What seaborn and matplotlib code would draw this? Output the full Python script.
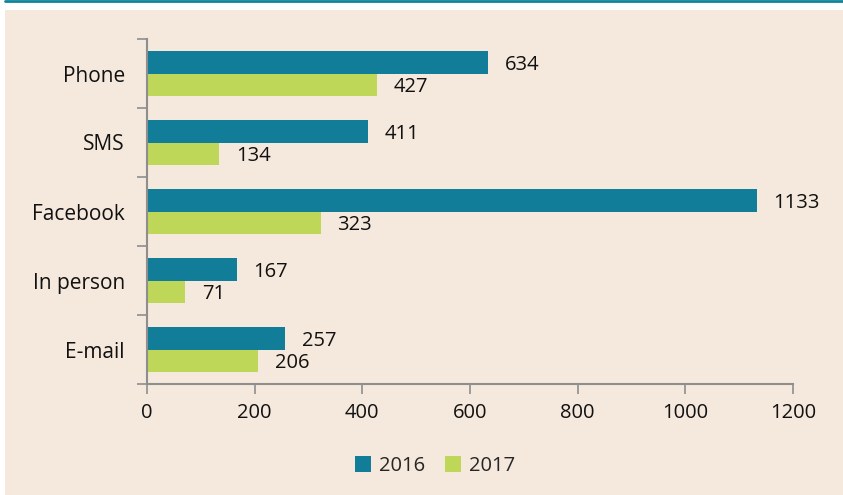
import pandas as pd
import numpy as np
import matplotlib.pyplot as plt
import seaborn as sns
from matplotlib.patches import Rectangle
from matplotlib.lines import Line2D

channels = ['Phone', 'SMS', 'Facebook', 'In person', 'E-mail']
years = ['2016', '2017']
values_2016 = [634, 411, 1133, 167, 257]
values_2017 = [427, 134, 323, 71, 206]

bg = '#F5E8DC'
teal = '#117D99'
lime = '#BED758'
axis_grey = '#8E8E8E'

sns.set_theme(style='white')
plt.rcParams['font.family'] = ['Open Sans', 'DejaVu Sans']

df = pd.DataFrame({
    'channel': channels * 2,
    'year': ['2016'] * len(channels) + ['2017'] * len(channels),
    'value': values_2016 + values_2017,
})

fig = plt.figure(figsize=(8.43, 4.95), dpi=100, facecolor='white')
fig.patches.append(Rectangle((5 / 843, 0), 1, 1 - 10 / 495, transform=fig.transFigure,
                             facecolor=bg, edgecolor='none', zorder=-10))
fig.lines.append(Line2D([5 / 843, 1], [1 - 1 / 495, 1 - 1 / 495], transform=fig.transFigure,
                        color='#0E8499', linewidth=2))

ax = fig.add_axes([147 / 843, 1 - 384 / 495, (793 - 147) / 843, (384 - 39) / 495])
ax.set_facecolor(bg)

sns.barplot(data=df, y='channel', x='value', hue='year', order=channels, hue_order=years,
            palette=[teal, lime], orient='h', width=0.66, saturation=1, linewidth=0, ax=ax)

for cont in ax.containers:
    for t in ax.bar_label(cont, padding=12, fontsize=14.5, color='#111111'):
        t.set_va('center_baseline')

ax.set_xlim(0, 1200)
ax.set_ylim(4.5, -0.5)
ax.set_xticks(np.arange(0, 1201, 200))
ax.set_xlabel('')
ax.set_ylabel('')

ax.set_yticks(np.arange(-0.5, 5, 1), minor=True)
ax.tick_params(axis='y', which='major', length=0, pad=16, labelsize=15, labelcolor='#111111')
ax.tick_params(axis='y', which='minor', left=True, length=7, width=1.2, color=axis_grey)
ax.tick_params(axis='x', bottom=True, length=7, width=1.2, color=axis_grey, pad=7,
               labelsize=14.5, labelcolor='#111111')

for side in ['top', 'right']:
    ax.spines[side].set_visible(False)
for side in ['left', 'bottom']:
    ax.spines[side].set_color(axis_grey)
    ax.spines[side].set_linewidth(1.5)

handles, labels = ax.get_legend_handles_labels()
ax.legend(handles, labels, loc='center', bbox_to_anchor=(0.446, -0.238), ncol=2, frameon=False,
          fontsize=14.5, handlelength=0.8, handleheight=0.8, handletextpad=0.4, columnspacing=1.0)

fig.savefig('out.png', dpi=100, facecolor='white')
